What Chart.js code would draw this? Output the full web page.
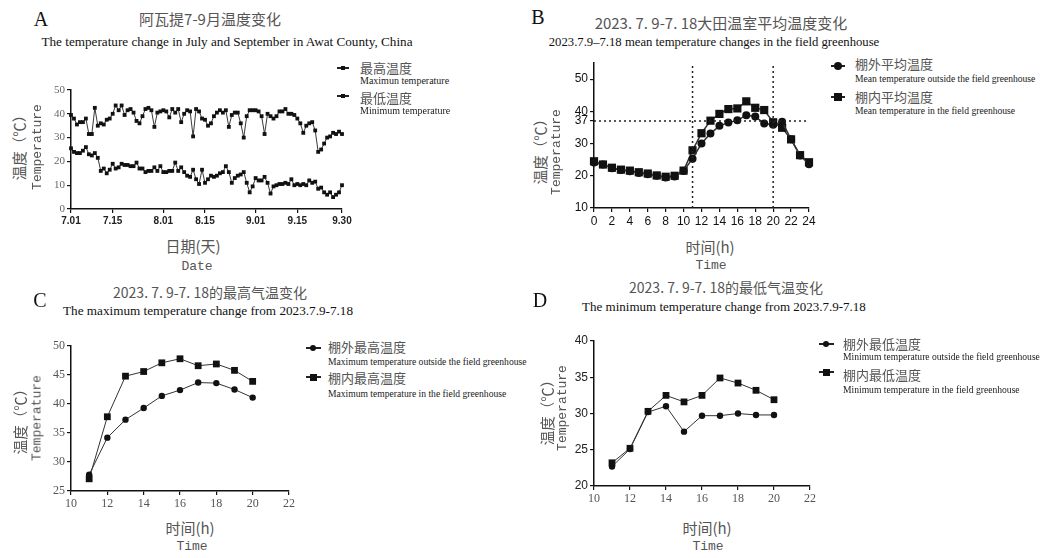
<!DOCTYPE html>
<html>
<head>
<meta charset="utf-8">
<script src="https://cdn.jsdelivr.net/npm/chart.js@4.4.0/dist/chart.umd.min.js"></script>
<style>
  body { margin: 0; background: #fff; }
  #page { position: relative; width: 1050px; height: 558px; overflow: hidden; background: #fff; }
  #page canvas { position: absolute; }
  .c { position: absolute; white-space: nowrap; line-height: 1; transform: translate(-50%, -50%); }
  .l { position: absolute; white-space: nowrap; line-height: 1; transform: translateY(-50%); }
  .v { position: absolute; white-space: nowrap; line-height: 1; transform: translate(-50%, -50%) rotate(-90deg); }
  .key { position: absolute; background: #222; }
</style>
</head>
<body>
<div id="page"></div>
<script>
// ── Data ───────────────────────────────────────────────────────────────────────
// A: daily max / min, 7.01 .. 9.30 (day index 0..91)
const aMaxTemp = [
  39.5, 38, 35.5, 36.5, 36.5, 38, 31.5, 31.5, 42.5, 35,
  36, 35.5, 37.5, 38, 40, 43.5, 41.5, 43.5, 39.5, 41.5,
  42, 40.5, 37, 36, 39, 42, 42.5, 41.5, 34.5, 40.5,
  41, 41.5, 41, 38.5, 42, 40.5, 42, 36.5, 40, 41.5,
  41, 30.5, 42, 41, 38, 37.5, 35, 36, 39, 40.5,
  41.5, 40.5, 41.5, 34.5, 39.5, 40.5, 40.5, 36, 30, 39,
  41.5, 41.5, 41.5, 41, 39, 31.5, 40, 39, 38, 39,
  41, 41, 42, 40, 40, 39.5, 38, 36, 32, 35,
  36, 36.5, 33, 24, 25, 27.5, 30, 30.5, 32, 31.5,
  32.5, 31.5
];
const aMinTemp = [
  25.5, 24, 23.5, 23.5, 24.5, 26, 23, 22.5, 23.5, 21.5,
  16, 17, 15, 16.5, 19, 17, 17.5, 19, 18.5, 18.5,
  18, 18, 19.5, 17, 17, 15.5, 16, 16, 17.5, 16,
  18, 15.5, 15.5, 16, 16, 19.5, 16, 17.5, 15.5, 14,
  13.5, 16.5, 12.5, 10.5, 16.5, 11, 12.5, 14, 13.5, 14,
  15, 15.5, 18, 15.5, 11, 13, 14, 14.5, 15.5, 11,
  7, 9.5, 13, 12, 12, 13.5, 11, 6.5, 9.5, 10,
  10.5, 10.5, 11, 10.5, 12.5, 10, 10.5, 10, 10.5, 10,
  12, 11, 11.5, 8.5, 9, 7, 6, 7, 5, 6,
  7, 10
];
const aTickDays   = [0, 14, 31, 45, 62, 76, 91];
const aTickLabels = ["7.01", "7.15", "8.01", "8.15", "9.01", "9.15", "9.30"];

// B: hourly mean temperature
const bHours   = [0, 1, 2, 3, 4, 5, 6, 7, 8, 9, 10, 11, 12, 13, 14, 15, 16, 17, 18, 19, 20, 21, 22, 23, 24];
const bOutside = [24.1, 23.5, 22.3, 21.8, 21.4, 20.9, 20.5, 20, 19.5, 19.8, 21.5, 25.3, 30, 33.1, 35.5, 36.5, 37.2, 38.8, 38.4, 36.2, 35.8, 36.8, 31.3, 26.3, 23.6];
const bInside  = [24.5, 23.5, 22.5, 21.9, 21.6, 21.1, 20.7, 20.1, 19.7, 20, 21.6, 27.9, 33.2, 37.1, 39.2, 40.7, 40.9, 43.1, 41.1, 40.4, 36.6, 34.9, 31.3, 26.4, 24.2];
const bYTicks  = [10, 20, 30, 37, 40, 50];
const bRefHours = [11, 20];
const bRefTemp  = 37;

// C: hourly maximum temperature
const cHours   = [11, 12, 13, 14, 15, 16, 17, 18, 19, 20];
const cOutside = [27.8, 34.2, 37.3, 39.3, 41.4, 42.4, 43.7, 43.6, 42.5, 41.1];
const cInside  = [27.1, 37.8, 44.8, 45.6, 47.1, 47.8, 46.6, 46.9, 45.8, 43.9];

// D: hourly minimum temperature
const dHours   = [11, 12, 13, 14, 15, 16, 17, 18, 19, 20];
const dOutside = [22.7, 25.1, 30.2, 31.0, 27.5, 29.7, 29.7, 30.0, 29.8, 29.8];
const dInside  = [23.2, 25.2, 30.3, 32.5, 31.6, 32.5, 34.9, 34.2, 33.2, 31.9];

// ── Fonts / helpers ────────────────────────────────────────────────────────────
const CJK   = '"Noto Sans CJK SC", sans-serif';
const SERIF = '"Liberation Serif", serif';
const SANS  = '"Liberation Sans", sans-serif';
const MONO  = '"Liberation Mono", monospace';
const page  = document.getElementById("page");

function put(cls, text, x, y, font, color) {
  const d = document.createElement("div");
  d.className = cls;
  d.textContent = text;
  d.style.left = x + "px";
  d.style.top = y + "px";
  d.style.font = font;
  d.style.color = color;
  page.appendChild(d);
}

// legend key: short line with a marker in the middle
function key(x, y, len, shape, size) {
  const line = document.createElement("div");
  line.className = "key";
  Object.assign(line.style, { left: (x - len / 2) + "px", top: (y - 0.6) + "px", width: len + "px", height: "1.2px" });
  page.appendChild(line);
  const m = document.createElement("div");
  m.className = "key";
  Object.assign(m.style, {
    left: (x - size / 2) + "px", top: (y - size / 2) + "px",
    width: size + "px", height: size + "px",
    borderRadius: shape === "circle" ? "50%" : "0", background: "#111"
  });
  page.appendChild(m);
}

function legendItem(x, y, len, shape, size, cn, en, cnY, enY, textX, enSize) {
  key(x, y, len, shape, size);
  put("l", cn, textX, cnY, "13px " + CJK, "#555");
  put("l", en, textX, enY, enSize + "px " + SERIF, "#1a1a1a");
}

function scale(min, max, step, font, color, extra, callback) {
  const ticks = { stepSize: step, font, color, padding: 2, autoSkip: false, maxRotation: 0 };
  if (callback) ticks.callback = callback;
  return Object.assign({
    type: "linear", min, max,
    grid:   { display: true, drawOnChartArea: false, drawTicks: true, tickLength: 4, color: "#111", lineWidth: 1.2 },
    border: { display: true, color: "#111", width: 1.5 },
    ticks,
  }, extra || {});
}

function series(xs, ys, style, r, lw, color) {
  return {
    data: xs.map((x, i) => ({ x, y: ys[i] })),
    borderColor: color, borderWidth: lw,
    pointStyle: style, pointRadius: r, pointBorderWidth: 0,
    pointBackgroundColor: "#111", tension: 0, clip: false,
  };
}

function refLine(xs, ys) {
  return {
    data: xs.map((x, i) => ({ x, y: ys[i] })),
    borderColor: "#222", borderWidth: 1.5, borderDash: [2, 3],
    pointRadius: 0, tension: 0, clip: false,
  };
}

function makeChart(box, datasets, xScale, yScale) {
  const c = document.createElement("canvas");
  c.width = box.w; c.height = box.h;
  Object.assign(c.style, { left: box.x + "px", top: box.y + "px", width: box.w + "px", height: box.h + "px" });
  page.appendChild(c);
  xScale.afterFit = s => { s.height = 24; };
  yScale.afterFit = s => { s.width = 40; };
  return new Chart(c, {
    type: "line",
    data: { datasets },
    options: {
      responsive: false, animation: false, devicePixelRatio: 1,
      layout: { padding: { top: 10, right: 15, left: 0, bottom: 0 } },
      plugins: { legend: { display: false }, tooltip: { enabled: false }, title: { display: false } },
      scales: { x: xScale, y: yScale },
    },
  });
}

// ── Panel A ────────────────────────────────────────────────────────────────────
const aDays = aMaxTemp.map((_, i) => i);
makeChart({ x: 31, y: 80, w: 326, h: 153 },
  [series(aDays, aMaxTemp, "rect", 2.7, 0.9, "#222"),
   series(aDays, aMinTemp, "rect", 2.7, 0.9, "#222")],
  scale(0, 91, 1, { family: SANS, size: 10, weight: "bold" }, "#222",
    { afterBuildTicks: s => { s.ticks = aTickDays.map(v => ({ value: v })); } },
    v => aTickLabels[aTickDays.indexOf(v)]),
  scale(0, 50, 10, { family: SERIF, size: 11 }, "#666"));

put("c", "A", 41, 19, "20px " + SERIF, "#111");
put("c", "阿瓦提7-9月温度变化", 210, 18, "15px " + CJK, "#555");
put("c", "The temperature change in July and September in Awat County, China", 227, 42, "13.2px " + SERIF, "#111");
put("v", "温度（℃）", 18, 144, "14.5px " + CJK, "#555");
put("v", "Temperature", 37, 147, "13px " + MONO, "#555");
put("c", "日期(天)", 193, 245, "15px " + CJK, "#555");
put("c", "Date", 197, 266, "13px " + MONO, "#555");
legendItem(343, 68, 12, "rect", 4, "最高温度", "Maximun temperature", 67, 80, 360, 10);
legendItem(343, 96, 12, "rect", 4, "最低温度", "Minimum temperature", 97, 110, 360, 10);

// ── Panel B ────────────────────────────────────────────────────────────────────
makeChart({ x: 554, y: 53, w: 270, h: 179 },
  [refLine([bRefHours[0], bRefHours[0]], [10, 55]),
   refLine([bRefHours[1], bRefHours[1]], [10, 55]),
   refLine([0, 24], [bRefTemp, bRefTemp]),
   series(bHours, bOutside, "circle", 4, 1.5, "#333"),
   series(bHours, bInside, "rect", 5.8, 1.5, "#333")],
  scale(0, 24, 2, { family: SANS, size: 12 }, "#111"),
  scale(10, 55, 10, { family: SANS, size: 12 }, "#111",
    { afterBuildTicks: s => { s.ticks = bYTicks.map(v => ({ value: v })); } }));

put("c", "B", 538, 17, "20px " + SERIF, "#111");
put("c", "2023. 7. 9-7. 18大田温室平均温度变化", 721, 22, "15px " + CJK, "#555");
put("c", "2023.7.9\u20137.18 mean temperature changes in the field greenhouse", 714, 42, "12.7px " + SERIF, "#111");
put("v", "温度（℃）", 539, 148, "14.5px " + CJK, "#555");
put("v", "Temperature", 556, 152, "13px " + MONO, "#555");
put("c", "时间(h)", 710, 246, "15px " + CJK, "#555");
put("c", "Time", 711, 265, "13px " + MONO, "#555");
legendItem(838, 66, 14, "circle", 8, "棚外平均温度", "Mean temperature outside the field greenhouse", 63, 78, 855, 9.6);
legendItem(838, 97, 14, "rect", 8, "棚内平均温度", "Mean temperature in the field greenhouse", 96, 110, 855, 9.6);

// ── Panel C ────────────────────────────────────────────────────────────────────
makeChart({ x: 31, y: 336, w: 273, h: 179 },
  [series(cHours, cOutside, "circle", 3.2, 1, "#333"),
   series(cHours, cInside, "rect", 4.8, 1, "#333")],
  scale(10, 22, 2, { family: SERIF, size: 12 }, "#555"),
  scale(25, 50, 5, { family: SERIF, size: 12 }, "#555"));

put("c", "C", 40, 300, "20px " + SERIF, "#111");
put("c", "2023. 7. 9-7. 18的最高气温变化", 210, 292, "14px " + CJK, "#555");
put("c", "The maximum temperature change from 2023.7.9-7.18", 208, 311, "13.2px " + SERIF, "#111");
put("v", "温度（℃）", 19, 418, "14.5px " + CJK, "#555");
put("v", "Temperature", 37, 418, "13px " + MONO, "#555");
put("c", "时间(h)", 190, 527, "15px " + CJK, "#555");
put("c", "Time", 192, 546, "13px " + MONO, "#555");
legendItem(313, 348, 15, "circle", 6, "棚外最高温度", "Maximum temperature outside the field greenhouse", 346, 361, 328, 9.6);
legendItem(313, 377, 15, "rect", 7, "棚内最高温度", "Maximum temperature in the field greenhouse", 377, 393, 328, 9.6);

// ── Panel D ────────────────────────────────────────────────────────────────────
makeChart({ x: 554, y: 331, w: 271, h: 179 },
  [series(dHours, dOutside, "circle", 3.2, 1, "#333"),
   series(dHours, dInside, "rect", 4.8, 1, "#333")],
  scale(10, 22, 2, { family: SERIF, size: 12 }, "#555"),
  scale(20, 40, 5, { family: SANS, size: 12 }, "#222"));

put("c", "D", 540, 300, "20px " + SERIF, "#111");
put("c", "2023. 7. 9-7. 18的最低气温变化", 726, 287, "14px " + CJK, "#555");
put("c", "The minimum temperature change from 2023.7.9-7.18", 724, 307, "13px " + SERIF, "#111");
put("v", "温度（℃）", 546, 409, "14.5px " + CJK, "#555");
put("v", "Temperature", 562, 408, "13px " + MONO, "#555");
put("c", "时间(h)", 707, 527, "15px " + CJK, "#555");
put("c", "Time", 708, 546, "13px " + MONO, "#555");
legendItem(826, 344, 15, "circle", 6, "棚外最低温度", "Minimum temperature outside the field greenhouse", 343, 356, 843, 9.6);
legendItem(826, 372, 15, "rect", 7, "棚内最低温度", "Minimum temperature in the field greenhouse", 374, 389, 843, 9.6);
</script>
</body>
</html>
